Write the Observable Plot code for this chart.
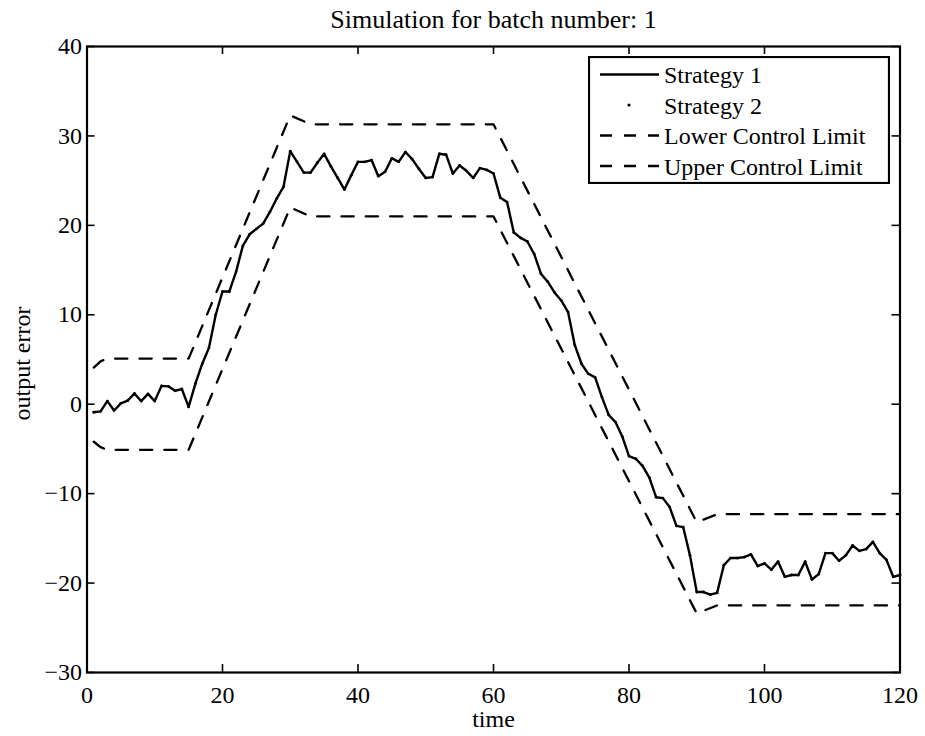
<!DOCTYPE html>
<html>
<head>
<meta charset="utf-8">
<script src="https://cdn.jsdelivr.net/npm/d3@7"></script>
<script src="https://cdn.jsdelivr.net/npm/@observablehq/plot@0.6"></script>
<style>
  html, body { margin: 0; padding: 0; background: #fff; }
  #wrap { position: relative; width: 925px; height: 736px; font-family: "Liberation Serif", "Times New Roman", serif; }
  #legend { position: absolute; left: 588px; top: 56px; }
</style>
</head>
<body>
<div id="wrap"></div>
<script>
// ---- data ----
const titleText = "Simulation for batch number: 1";
const xLabel = "time";
const yLabel = "output error";
const xTicks = [0, 20, 40, 60, 80, 100, 120];
const yTicks = [-30, -20, -10, 0, 10, 20, 30, 40];
const legendLabels = ["Strategy 1", "Strategy 2", "Lower Control Limit", "Upper Control Limit"];

const time = [1,2,3,4,5,6,7,8,9,10,11,12,13,14,15,16,17,18,19,20,
  21,22,23,24,25,26,27,28,29,30,31,32,33,34,35,36,37,38,39,40,
  41,42,43,44,45,46,47,48,49,50,51,52,53,54,55,56,57,58,59,60,
  61,62,63,64,65,66,67,68,69,70,71,72,73,74,75,76,77,78,79,80,
  81,82,83,84,85,86,87,88,89,90,91,92,93,94,95,96,97,98,99,100,
  101,102,103,104,105,106,107,108,109,110,111,112,113,114,115,116,117,118,119,120];

const strategy1 = [-0.9,-0.8,0.35,-0.7,0.1,0.4,1.2,0.35,1.15,0.35,2.05,2.0,1.5,1.7,-0.3,2.3,4.5,6.3,10.0,12.6,
  12.6,14.8,17.7,19.0,19.6,20.2,21.5,23.0,24.3,28.3,27.1,25.9,25.9,27.0,28.0,26.6,25.3,24.0,25.6,27.1,
  27.1,27.3,25.5,26.0,27.5,27.1,28.2,27.4,26.3,25.3,25.4,28.0,27.9,25.8,26.7,26.1,25.3,26.4,26.2,25.8,
  23.1,22.6,19.2,18.6,18.2,16.8,14.6,13.7,12.5,11.6,10.3,6.6,4.5,3.4,3.0,0.8,-1.2,-2.0,-3.6,-5.8,
  -6.1,-6.9,-8.2,-10.4,-10.5,-11.5,-13.6,-13.75,-16.9,-21.0,-21.0,-21.3,-21.1,-18.0,-17.2,-17.2,-17.1,-16.8,-18.1,-17.8,
  -18.5,-17.6,-19.3,-19.1,-19.1,-17.6,-19.6,-19.0,-16.65,-16.65,-17.5,-16.9,-15.8,-16.4,-16.2,-15.4,-16.65,-17.4,-19.3,-19.1];

const strategy2 = strategy1.slice(); // plotted as dots on the same samples

const limitTime = [1, 2, 3, 15, 30, 33, 60, 90, 93, 120];
const lowerLimit = [-4.2, -4.8, -5.1, -5.1, 22.0, 21.0, 21.0, -23.4, -22.5, -22.5];
const upperLimit = [4.1, 4.8, 5.1, 5.1, 32.3, 31.3, 31.3, -13.2, -12.3, -12.3];

// ---- tables ----
const s1 = time.map((t, i) => ({t, v: strategy1[i]}));
const s2 = time.map((t, i) => ({t, v: strategy2[i]}));
const lcl = limitTime.map((t, i) => ({t, v: lowerLimit[i]}));
const ucl = limitTime.map((t, i) => ({t, v: upperLimit[i]}));

const fmt = d => d < 0 ? "\u2212" + Math.abs(d) : String(d);
const W = 925, H = 736, mL = 86.5, mR = 25.5, mT = 46, mB = 64;
const plotW = W - mL - mR, plotH = H - mT - mB, tickLen = 8;
const font = "Liberation Serif, Times New Roman, serif";

const chart = Plot.plot({
  width: W, height: H,
  marginLeft: mL, marginRight: mR, marginTop: mT, marginBottom: mB,
  style: {background: "#fff", fontFamily: font, color: "#000"},
  x: {domain: [0, 120]},
  y: {domain: [-30, 40]},
  marks: [
    Plot.line(lcl, {x: "t", y: "v", stroke: "#000", strokeWidth: 2.3, strokeDasharray: "12.3,12"}),
    Plot.line(ucl, {x: "t", y: "v", stroke: "#000", strokeWidth: 2.3, strokeDasharray: "12.3,12"}),
    Plot.line(s1, {x: "t", y: "v", stroke: "#000", strokeWidth: 2.4, strokeLinejoin: "round"}),
    Plot.dot(s2, {x: "t", y: "v", r: 1.4, fill: "#000", stroke: null}),
    // inward ticks on all four sides
    Plot.tickX(xTicks, {x: d => d, insetTop: plotH - tickLen, stroke: "#000", strokeWidth: 1.6}),
    Plot.tickX(xTicks, {x: d => d, insetBottom: plotH - tickLen, stroke: "#000", strokeWidth: 1.6}),
    Plot.tickY(yTicks, {y: d => d, insetRight: plotW - tickLen, stroke: "#000", strokeWidth: 1.6}),
    Plot.tickY(yTicks, {y: d => d, insetLeft: plotW - tickLen, stroke: "#000", strokeWidth: 1.6}),
    Plot.frame({stroke: "#000", strokeWidth: 2.2}),
    Plot.axisX(xTicks, {tickSize: 0, tickPadding: 13, fontSize: 24, tickFormat: fmt, label: null}),
    Plot.axisY(yTicks, {tickSize: 0, tickPadding: 5, fontSize: 24, tickFormat: fmt, label: null}),
    Plot.text([titleText], {frameAnchor: "top", dy: -19, lineAnchor: "bottom", textAnchor: "middle", fontSize: 26, fill: "#000"}),
    Plot.text([xLabel], {frameAnchor: "bottom", dy: 54, lineAnchor: "bottom", textAnchor: "middle", fontSize: 24, fill: "#000"}),
    Plot.text([yLabel], {frameAnchor: "left", dx: -57.5, dy: 4, rotate: -90, lineAnchor: "bottom", textAnchor: "middle", fontSize: 24, fill: "#000"})
  ]
});
const wrap = document.getElementById("wrap");
wrap.appendChild(chart);

// ---- legend ----
const LW = 302, LH = 128;
const rowsY = [18.5, 49, 79.5, 110];
const leg = d3.select(wrap).append("svg").attr("id", "legend").attr("width", LW).attr("height", LH)
  .style("font-family", font);
leg.append("rect").attr("x", 1).attr("y", 1).attr("width", LW - 2).attr("height", LH - 2)
  .attr("fill", "#fff").attr("stroke", "#000").attr("stroke-width", 2.2);
legendLabels.forEach((lab, i) => {
  const y = rowsY[i];
  if (i === 0) {
    leg.append("line").attr("x1", 12).attr("x2", 71).attr("y1", y).attr("y2", y)
      .attr("stroke", "#000").attr("stroke-width", 2.4);
  } else if (i === 1) {
    leg.append("circle").attr("cx", 41).attr("cy", y).attr("r", 1.6).attr("fill", "#000");
  } else {
    leg.append("line").attr("x1", 12).attr("x2", 71).attr("y1", y).attr("y2", y)
      .attr("stroke", "#000").attr("stroke-width", 2.3).attr("stroke-dasharray", "12,12");
  }
  leg.append("text").attr("x", 76).attr("y", y + 8.7).attr("font-size", 24).attr("fill", "#000").text(lab);
});
</script>
</body>
</html>
